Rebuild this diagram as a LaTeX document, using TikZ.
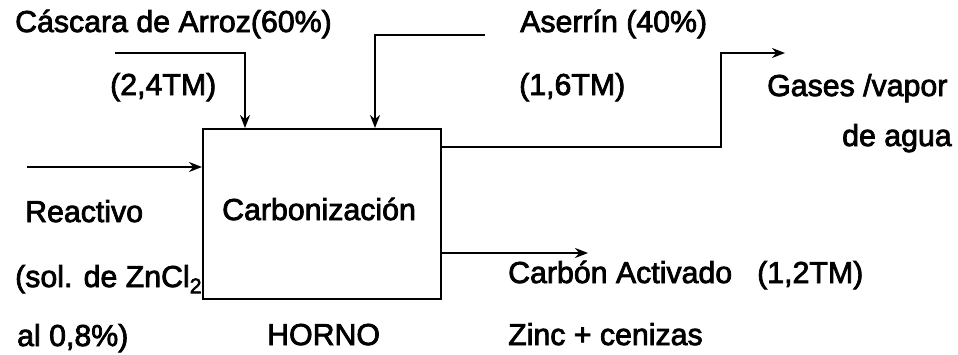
\documentclass[tikz,border=0pt]{standalone}
\usepackage{fontspec}
\setmainfont{Liberation Sans}
\newfontfamily\lblfont[FakeBold=2.5]{Liberation Sans}
\usetikzlibrary{arrows.meta}
\begin{document}
\begin{tikzpicture}[x=1pt,y=-1pt,
  lbl/.style={anchor=base west, inner sep=0pt, font=\lblfont\fontsize{30.3}{35}\selectfont},
  ln/.style={line width=2.2pt},
  arr/.style={ln, -{Stealth[length=13pt,width=10pt]}}]
\useasboundingbox (0,0) rectangle (958,354);
% box
\node[draw, line width=2.2pt, anchor=north west, inner sep=0pt,
      minimum width=238pt, minimum height=170pt] (box) at (202,128) {};
% free ends and bend points
\coordinate (c1s) at (115,53);
\coordinate (c1e) at (245,128);
\coordinate (c2s) at (485,35);
\coordinate (c2e) at (375,128);
\coordinate (rs) at (27,167);
\coordinate (re) at (202,167);
\coordinate (gs) at (440,147);
\coordinate (gb) at (721,53);
\coordinate (ge) at (785,53);
\coordinate (cs) at (440,253);
\coordinate (ce) at (588,253);
% connectors
\draw[arr] (c1s) -| (c1e);
\draw[arr] (c2s) -| (c2e);
\draw[arr] (rs) -- (re);
\draw[arr] (gs) -| (gb) -- (ge);
\draw[arr] (cs) -- (ce);
% labels
\node[lbl] (t1) at (15,32) {Cáscara de Arroz(60\%)};
\node[lbl] (t2) at (110,95) {(2,4TM)};
\node[lbl] (t3) at (520,32) {Aserrín (40\%)};
\node[lbl] (t4) at (519,95) {(1,6TM)};
\node[lbl] (t5) at (767,96) {Gases /vapor};
\node[lbl] (t6) at (842,146) {de agua};
\node[lbl] (t7) at (25,222) {Reactivo};
\node[lbl] (t8) at (15,287) {(sol. de ZnCl\textsubscript{2}};
\node[lbl] (t9) at (17,346) {al 0,8\%)};
\node[lbl] (t10) at (222,220) {Carbonización};
\node[lbl] (t11) at (267,345) {HORNO};
\node[lbl] (t12) at (508,283) {Carbón Activado};
\node[lbl] (t13) at (757,283) {(1,2TM)};
\node[lbl] (t14) at (508,345) {Zinc + cenizas};
\end{tikzpicture}
\end{document}
